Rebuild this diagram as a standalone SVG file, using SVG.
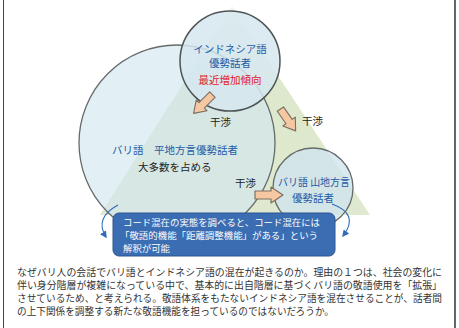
<svg xmlns="http://www.w3.org/2000/svg" width="459" height="328" viewBox="0 0 459 328">
<defs>
<style>
text{font-family:"Noto Sans CJK JP","Noto Sans",sans-serif;}
.blue{fill:#1f5ca6;font-size:10.5px;}
.red{fill:#e0202a;font-size:10.5px;}
.dark{fill:#222;font-size:10.5px;}
.box{fill:#fff;font-size:8.9px;}
.body{fill:#333;font-size:9.8px;}
.circ{stroke:#666b6b;stroke-width:1.3;}
.arr{fill:#f6c8a2;stroke:#7d6f63;stroke-width:1.2;stroke-linejoin:round;}
.curve{fill:none;stroke:#2f6bb8;stroke-width:1.1;}
</style>
<linearGradient id="tri" x1="0" y1="0" x2="0" y2="1">
<stop offset="0" stop-color="#f1f5ea"/>
<stop offset="0.4" stop-color="#dde8cc"/>
<stop offset="1" stop-color="#dfe9cf"/>
</linearGradient>
<marker id="ah" viewBox="0 0 10 10" refX="8" refY="5" markerWidth="7" markerHeight="7" orient="auto" markerUnits="userSpaceOnUse">
<path d="M0,0 L10,5 L0,10 z" fill="#2f6bb8"/>
</marker>
<polygon id="blk" points="-14,-4 2,-4 2,-8 14,0 2,8 2,4 -14,4"/>
</defs>
<rect width="459" height="328" fill="#fff"/>
<line x1="3.5" y1="0" x2="3.5" y2="328" stroke="#444" stroke-width="1"/>
<line x1="455" y1="0" x2="455" y2="328" stroke="#666" stroke-width="2"/>

<polygon points="232,6 100,215 370,215" fill="url(#tri)"/>

<g id="bali-lowland">
<circle cx="177" cy="143" r="98" fill="#d3e6f0" fill-opacity="0.65" class="circ"/>
<text class="blue" x="112" y="154">バリ語　平地方言優勢話者</text>
<text class="dark" x="138" y="171">大多数を占める</text>
</g>
<g id="bali-mountain">
<circle cx="313" cy="188" r="40" fill="#cfe3ee" fill-opacity="0.75" class="circ"/>
<text class="blue" x="278" y="186" textLength="72" lengthAdjust="spacingAndGlyphs">バリ語 山地方言</text>
<text class="blue" x="313" y="202" text-anchor="middle">優勢話者</text>
</g>
<g id="indonesian">
<circle cx="230" cy="61" r="50" fill="#d6e8f0" fill-opacity="0.85" stroke="#4f5555" stroke-width="1.5"/>
<text class="blue" x="230" y="53" text-anchor="middle">インドネシア語</text>
<text class="blue" x="230" y="66.5" text-anchor="middle">優勢話者</text>
<text class="red" x="230" y="84" text-anchor="middle">最近増加傾向</text>
</g>

<g id="connectors">
<use href="#blk" class="arr" transform="translate(203,104) rotate(135) scale(0.95)"/>
<use href="#blk" class="arr" transform="translate(288,120) rotate(55) scale(0.95)"/>
<use href="#blk" class="arr" transform="translate(269,195) scale(1)"/>
<text class="dark" x="210" y="126">干渉</text>
<text class="dark" x="302" y="125">干渉</text>
<text class="dark" x="235" y="187">干渉</text>
<path class="curve" d="M118,205 Q94,218 106,237" marker-end="url(#ah)"/>
<path class="curve" d="M332,204 Q360,214 343,236" marker-end="url(#ah)"/>
</g>

<g id="callout">
<rect x="113" y="213" width="222" height="43" rx="6" fill="#3b6db2" stroke="#2c5591" stroke-width="1"/>
<text class="box" x="123" y="225.5" textLength="197" lengthAdjust="spacingAndGlyphs">コード混在の実態を調べると、コード混在には</text>
<text class="box" x="120" y="238.5" textLength="198" lengthAdjust="spacingAndGlyphs">「敬語的機能「距離調整機能」がある」という</text>
<text class="box" x="123" y="251.5" textLength="47" lengthAdjust="spacingAndGlyphs">解釈が可能</text>
</g>

<g id="body">
<text class="body" x="17" y="275.5" textLength="425" lengthAdjust="spacingAndGlyphs">なぜバリ人の会話でバリ語とインドネシア語の混在が起きるのか。理由の１つは、社会の変化に</text>
<text class="body" x="17" y="288.5" textLength="425" lengthAdjust="spacingAndGlyphs">伴い身分階層が複雑になっている中で、基本的に出自階層に基づくバリ語の敬語使用を「拡張」</text>
<text class="body" x="17" y="301.5" textLength="425" lengthAdjust="spacingAndGlyphs">させているため、と考えられる。敬語体系をもたないインドネシア語を混在させることが、話者間</text>
<text class="body" x="17" y="314.5" textLength="317" lengthAdjust="spacingAndGlyphs">の上下関係を調整する新たな敬語機能を担っているのではないだろうか。</text>
</g>
</svg>
